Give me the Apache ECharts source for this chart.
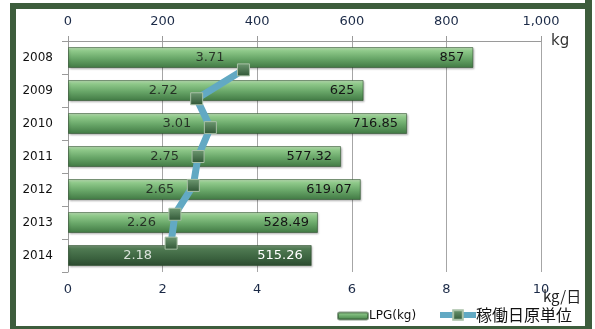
<!DOCTYPE html>
<html>
<head>
<meta charset="utf-8">
<script src="https://cdn.jsdelivr.net/npm/echarts@6/dist/echarts.min.js"></script>
<style>
  html, body { margin: 0; padding: 0; background: #fff; }
  #chart { width: 595px; height: 329px; }
</style>
</head>
<body>
<div id="chart"></div>
<script>
// LPG usage per year (kg) and usage per operating day (kg/日)
const years = ['2008', '2009', '2010', '2011', '2012', '2013', '2014'];
const lpgKg = [857, 625, 716.85, 577.32, 619.07, 528.49, 515.26];
const perDay = [3.71, 2.72, 3.01, 2.75, 2.65, 2.26, 2.18];
const kgTicks = [0, 1000, 200];   // min, max, interval (top axis)
const dayTicks = [0, 10, 2];      // min, max, interval (bottom axis)

const font = 'DejaVu Sans, Verdana, sans-serif';
const jpFont = 'Noto Sans CJK JP, sans-serif';
const frame = '#3d5d3c';
const tickText = '#1b2a47';
const lineBlue = '#62a9c3';

// The line uses its own (hidden) category axis with a padding slot at each end
const lineCats = [''].concat(years, [' ']);

const barGreen = new echarts.graphic.LinearGradient(0, 0, 0, 1, [
  { offset: 0, color: '#c3e6bc' },
  { offset: 0.18, color: '#8fc98a' },
  { offset: 0.55, color: '#68a668' },
  { offset: 1, color: '#407843' }
]);
const barDark = new echarts.graphic.LinearGradient(0, 0, 0, 1, [
  { offset: 0, color: '#7c9b7c' },
  { offset: 0.18, color: '#4f7a52' },
  { offset: 0.6, color: '#3c6440' },
  { offset: 1, color: '#2c4a30' }
]);
const markerFill = new echarts.graphic.LinearGradient(0, 0, 0, 1, [
  { offset: 0, color: '#6f9a72' },
  { offset: 1, color: '#2f5535' }
]);

const last = years.length - 1;

const chart = echarts.init(document.getElementById('chart'), null, { renderer: 'canvas' });
chart.setOption({
  animation: false,
  grid: { left: 68, right: 54, top: 41, bottom: 57 },
  xAxis: [
    {
      type: 'value', position: 'top',
      min: kgTicks[0], max: kgTicks[1], interval: kgTicks[2],
      axisLine: { show: true, lineStyle: { color: '#9a9a9a' } },
      axisTick: { show: true, length: 5, lineStyle: { color: '#9a9a9a' } },
      splitLine: { show: false },
      axisLabel: {
        margin: 13, fontFamily: font, fontSize: 13, color: tickText,
        formatter: v => v.toLocaleString('en-US')
      }
    },
    {
      type: 'value', position: 'bottom',
      min: dayTicks[0], max: dayTicks[1], interval: dayTicks[2],
      axisLine: { show: false },
      axisTick: { show: false },
      splitLine: { show: true, lineStyle: { color: '#a6a6a6', width: 1 } },
      axisLabel: { margin: 11, fontFamily: font, fontSize: 13, color: tickText }
    }
  ],
  yAxis: [
    {
      type: 'category', inverse: true, data: years,
      axisLine: { show: true, lineStyle: { color: '#9a9a9a' } },
      axisTick: { show: true, length: 6, lineStyle: { color: '#9a9a9a' } },
      axisLabel: { margin: 15, fontFamily: font, fontSize: 12, color: '#111' }
    },
    {
      type: 'category', inverse: true, data: lineCats, boundaryGap: false,
      show: false
    }
  ],
  legend: [
    {
      data: ['LPG(kg)'], left: 337, top: 310, padding: 0,
      itemWidth: 30, itemHeight: 7, itemGap: 0,
      textStyle: { fontFamily: font, fontSize: 12, color: '#111', padding: [0, 0, 0, -4] }
    },
    {
      data: [{ name: '稼働日原単位', lineStyle: { width: 6, color: lineBlue } }],
      left: 437, top: 307, padding: 0,
      itemWidth: 36, itemHeight: 12,
      textStyle: { fontFamily: jpFont, fontSize: 16, color: '#111', padding: [0, 0, 0, -5] }
    }
  ],
  series: [
    {
      name: 'LPG(kg)', type: 'bar', xAxisIndex: 0, yAxisIndex: 0,
      barWidth: 21, z: 2,
      data: lpgKg.map((v, i) => ({
        value: v,
        itemStyle: { color: i === last ? barDark : barGreen },
        label: { color: i === last ? '#ffffff' : '#151515' }
      })),
      itemStyle: {
        color: barGreen,
        borderColor: 'rgba(40,75,40,0.55)', borderWidth: 1,
        shadowColor: 'rgba(0,0,0,0.25)', shadowBlur: 2, shadowOffsetX: 1, shadowOffsetY: 1
      },
      label: {
        show: true, position: 'insideRight', distance: 9,
        fontFamily: font, fontSize: 13
      }
    },
    {
      name: '稼働日原単位', type: 'line', xAxisIndex: 1, yAxisIndex: 1, z: 5,
      data: perDay.map((v, i) => [v, years[i]]),
      lineStyle: { color: lineBlue, width: 7 },
      itemStyle: { color: markerFill, borderColor: '#a8c0a6', borderWidth: 1 },
      symbol: 'rect', symbolSize: 12, showAllSymbol: true
    },
    {
      // value labels for the per-day line, set on the bar rows
      name: 'perDayLabels', type: 'scatter', xAxisIndex: 1, yAxisIndex: 0, z: 6,
      symbolSize: 0, silent: true,
      data: perDay.map((v, i) => ({
        value: [v, years[i]],
        label: { color: i === last ? '#ffffff' : '#151515' }
      })),
      label: {
        show: true, position: 'left', distance: 19,
        fontFamily: font, fontSize: 13,
        formatter: p => p.value[0].toFixed(2)
      }
    }
  ],
  graphic: [
    { type: 'rect', shape: { x: 10, y: 3, width: 582, height: 6 }, style: { fill: frame } },
    { type: 'rect', shape: { x: 10, y: 3, width: 6, height: 326 }, style: { fill: frame } },
    { type: 'rect', shape: { x: 585, y: 0, width: 7, height: 329 }, style: { fill: frame } },
    { type: 'rect', shape: { x: 10, y: 326, width: 582, height: 3 }, style: { fill: frame } },
    {
      type: 'text', left: 551, top: 34,
      style: { text: 'kg', fontFamily: font, fontSize: 15, fill: '#333' }
    },
    {
      type: 'text', left: 543, top: 289,
      style: { text: 'kg/日', fontFamily: jpFont, fontSize: 15, fill: '#222' }
    }
  ]
});
</script>
</body>
</html>
